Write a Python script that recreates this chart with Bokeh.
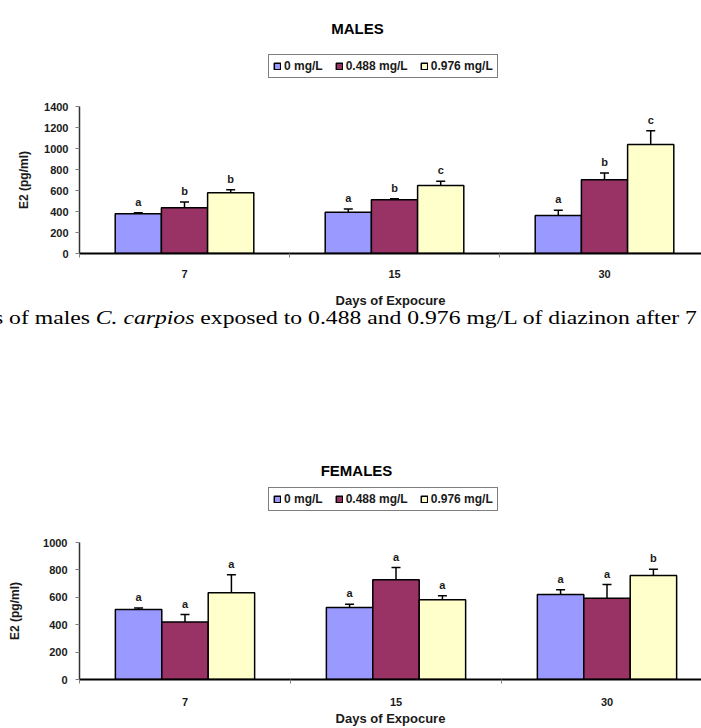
from bokeh.plotting import figure
from bokeh.models import (ColumnDataSource, Range1d, FixedTicker, Whisker, TeeHead,
                          Legend, LegendItem, Label, Div)
from bokeh.layouts import column
from bokeh.core.properties import value
from bokeh.embed import file_html
from bokeh.resources import INLINE

# ---------------- data ----------------
days = ["7", "15", "30"]
series = ["0 mg/L", "0.488 mg/L", "0.976 mg/L"]
colors = ["#9999FF", "#993366", "#FFFFCC"]

male_0 = [378, 394, 362]
male_0488 = [435, 511, 702]
male_0976 = [578, 648, 1038]
male_err_0 = [10, 30, 50]
male_err_0488 = [55, 10, 65]
male_err_0976 = [30, 40, 130]
male_letters_0 = ["a", "a", "a"]
male_letters_0488 = ["b", "b", "b"]
male_letters_0976 = ["b", "c", "c"]

female_0 = [511, 525, 621]
female_0488 = [419, 728, 593]
female_0976 = [634, 583, 759]
female_err_0 = [10, 25, 35]
female_err_0488 = [55, 90, 100]
female_err_0976 = [130, 28, 45]
female_letters_0 = ["a", "a", "a"]
female_letters_0488 = ["a", "a", "a"]
female_letters_0976 = ["a", "a", "b"]

male_ticks = [0, 200, 400, 600, 800, 1000, 1200, 1400]
female_ticks = [0, 200, 400, 600, 800, 1000]

FONT = "Liberation Sans"
FONT_V = value(FONT)
TXT = "#1a1a1a"
W = 701
FRAME_LEFT = 79
BW = 0.22


def bar_x(j):
    return [i + 0.5 + (j - 1) * BW for i in range(len(days))]


def make_header(title, vals, h, title_xy, legend_xy):
    """Title and legend strip above a chart (page-pixel data space, y down)."""
    p = figure(width=W, height=h, output_backend="svg", toolbar_location=None,
               x_range=Range1d(FRAME_LEFT, W), y_range=Range1d(h, 0),
               x_axis_type=None, y_axis_type=None,
               min_border_left=FRAME_LEFT, min_border_right=0,
               min_border_top=0, min_border_bottom=0)
    p.xgrid.visible = False
    p.ygrid.visible = False
    p.outline_line_color = None
    p.background_fill_color = "white"
    p.border_fill_color = "white"
    # legend-only renderers (hidden; the legend still shows their swatches)
    rs = []
    for j, c in enumerate(colors):
        r = p.vbar(x=bar_x(j), top=vals[j], bottom=0, width=BW, fill_color=c,
                   line_color="black", line_width=1.5)
        r.visible = False
        rs.append(r)
    tx, ty = title_xy
    p.add_layout(Label(x=tx, y=ty, text=title, text_align="center", text_baseline="middle",
                       text_font=FONT, text_font_size="15px", text_font_style="bold",
                       text_color="black"))
    lx, ly = legend_xy
    legend = Legend(items=[LegendItem(label=s, renderers=[r]) for s, r in zip(series, rs)],
                    orientation="horizontal", location=(lx - FRAME_LEFT, ly), margin=0,
                    padding=4, spacing=12, label_standoff=3,
                    glyph_width=8, glyph_height=8,
                    label_text_font=FONT, label_text_font_size="12px",
                    label_text_font_style="bold", label_text_color=TXT,
                    label_height=12,
                    inactive_fill_alpha=0,
                    border_line_color="black", border_line_width=1.5,
                    background_fill_color="white", background_fill_alpha=1)
    p.add_layout(legend, "center")
    return p


def make_chart(vals, errs, letters, yticks, fig_h, border_top,
               border_bottom, frame_h, unit_px,
               ylab_standoff, ytick_standoff, xtick_standoff, xlab_standoff):
    frame_w = W - FRAME_LEFT
    ymax = yticks[-1]
    p = figure(width=W, height=fig_h, output_backend="svg", toolbar_location=None,
               x_range=Range1d(0, frame_w / unit_px), y_range=Range1d(0, ymax),
               min_border_left=FRAME_LEFT, min_border_right=0,
               min_border_top=border_top, min_border_bottom=border_bottom)
    p.xgrid.visible = False
    p.ygrid.visible = False
    p.outline_line_color = None
    p.background_fill_color = "white"
    p.border_fill_color = "white"

    pad = 11 * ymax / frame_h
    for j in range(3):
        src = ColumnDataSource(dict(
            x=bar_x(j), top=vals[j],
            lower=[v - e for v, e in zip(vals[j], errs[j])],
            upper=[v + e for v, e in zip(vals[j], errs[j])],
            ly=[v + e + pad for v, e in zip(vals[j], errs[j])],
            lab=letters[j]))
        p.vbar(x="x", top="top", bottom=0, width=BW, source=src,
               fill_color=colors[j], line_color="black", line_width=1.5)
        p.add_layout(Whisker(source=src, base="x", lower="lower", upper="upper",
                             dimension="height", line_color="black", line_width=1.5,
                             upper_head=TeeHead(size=9, line_color="black", line_width=1.5),
                             lower_head=TeeHead(size=9, line_color="black", line_width=1.5)))
        p.text(x="x", y="ly", text="lab", source=src, text_align="center",
               text_baseline="middle", text_font=FONT_V, text_font_size="11px",
               text_font_style="bold", text_color=TXT)

    # x axis
    xa = p.xaxis[0]
    xa.ticker = FixedTicker(ticks=[i + 0.5 for i in range(len(days))],
                            minor_ticks=[0, 1, 2, 3])
    xa.major_label_overrides = {i + 0.5: d for i, d in enumerate(days)}
    xa.major_tick_out = 0
    xa.major_tick_in = 0
    xa.minor_tick_out = 4
    xa.minor_tick_in = 0
    xa.minor_tick_line_color = "#808080"
    xa.axis_line_color = "black"
    xa.axis_line_width = 2
    xa.major_label_text_font = FONT
    xa.major_label_text_font_size = "11px"
    xa.major_label_text_font_style = "bold"
    xa.major_label_text_color = TXT
    xa.major_label_standoff = xtick_standoff
    xa.axis_label = "Days of Expocure"
    xa.axis_label_text_font = FONT
    xa.axis_label_text_font_size = "13px"
    xa.axis_label_text_font_style = "bold"
    xa.axis_label_text_color = TXT
    xa.axis_label_standoff = xlab_standoff

    # y axis
    ya = p.yaxis[0]
    ya.ticker = FixedTicker(ticks=yticks, minor_ticks=[])
    ya.major_tick_out = 4
    ya.major_tick_in = 0
    ya.major_tick_line_color = "#808080"
    ya.axis_line_color = "#333333"
    ya.axis_line_width = 1.5
    ya.major_label_text_font = FONT
    ya.major_label_text_font_size = "11px"
    ya.major_label_text_font_style = "bold"
    ya.major_label_text_color = TXT
    ya.major_label_standoff = ytick_standoff
    ya.axis_label = "E2 (pg/ml)"
    ya.axis_label_text_font = FONT
    ya.axis_label_text_font_size = "12px"
    ya.axis_label_text_font_style = "bold"
    ya.axis_label_text_color = TXT
    ya.axis_label_standoff = ylab_standoff
    return p


male_vals = [male_0, male_0488, male_0976]
female_vals = [female_0, female_0488, female_0976]

h1 = make_header("MALES", male_vals, 98, title_xy=(357, 28), legend_xy=(268, 20))
p1 = make_chart(male_vals,
                [male_err_0, male_err_0488, male_err_0976],
                [male_letters_0, male_letters_0488, male_letters_0976],
                male_ticks, fig_h=212, border_top=8, border_bottom=57,
                frame_h=147, unit_px=210,
                ylab_standoff=10, ytick_standoff=7, xtick_standoff=12, xlab_standoff=12)

caption = Div(text='<span style="display:inline-block; margin-left:-6px; transform:scaleX(1.245); '
                   'transform-origin:left center;">s of males <i>C. carpios</i> exposed to 0.488 '
                   'and 0.976 mg/L of diazinon after 7</span>',
              width=W, height=20, margin=0,
              styles={"font-family": "Liberation Serif", "font-size": "19px",
                      "white-space": "nowrap", "line-height": "16px", "color": "black"})

h2 = make_header("FEMALES", female_vals, 206, title_xy=(356, 140), legend_xy=(268, 25))
p2 = make_chart(female_vals,
                [female_err_0, female_err_0488, female_err_0976],
                [female_letters_0, female_letters_0488, female_letters_0976],
                female_ticks, fig_h=192, border_top=6, border_bottom=48,
                frame_h=138, unit_px=211,
                ylab_standoff=18, ytick_standoff=8, xtick_standoff=14, xlab_standoff=2)

layout = column(h1, p1, caption, h2, p2, spacing=0)
open("out.html", "w").write(file_html(layout, INLINE))
